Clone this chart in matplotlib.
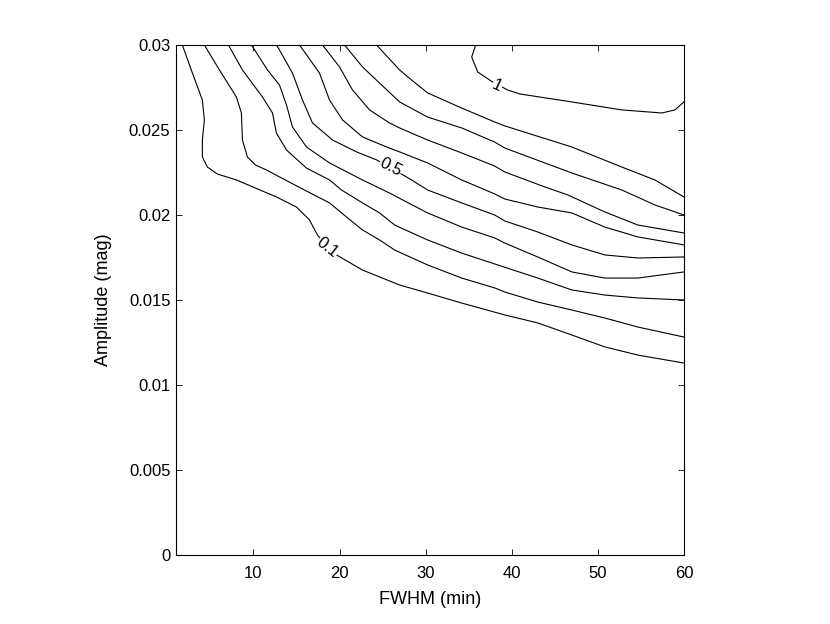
import matplotlib
matplotlib.use('Agg')
import matplotlib.pyplot as plt

# contour levels 0.1 ... 1.0, each traced as (FWHM, amplitude) points
fwhm_01 = [1.74, 2.91, 4.07, 4.30, 4.07, 4.07, 4.65, 5.81, 8.02, 12.67, 15.0, 16.51, 17.44, 18.6,
           19.65, 22.67, 26.98, 30.23, 34.19, 39.19, 43.02, 46.98, 50.81, 54.65, 60.0]
amp_01 = [0.03, 0.02835, 0.02676, 0.02559, 0.02441, 0.02341, 0.02282, 0.02241, 0.02206, 0.02106,
          0.02047, 0.01971, 0.01882, 0.01812, 0.01765, 0.01676, 0.01588, 0.01541, 0.01482,
          0.01412, 0.01365, 0.01294, 0.01224, 0.01176, 0.01129]

fwhm_02 = [4.30, 6.05, 8.02, 8.60, 8.72, 9.30, 10.23, 11.51, 13.02, 15.93, 18.84, 20.81, 22.67,
           24.65, 26.40, 30.23, 34.19, 38.02, 39.19, 43.02, 46.98, 50.81, 54.65, 60.0]
amp_02 = [0.03, 0.02853, 0.02694, 0.026, 0.02441, 0.02341, 0.02294, 0.02265, 0.02224, 0.02147,
          0.02071, 0.01988, 0.01912, 0.01853, 0.01794, 0.01706, 0.01629, 0.01571, 0.01547,
          0.01488, 0.01441, 0.01394, 0.01341, 0.01282]

fwhm_03 = [7.09, 8.72, 11.05, 12.21, 12.67, 13.84, 16.16, 18.84, 20.23, 22.67, 24.65, 26.40,
           30.23, 34.19, 38.02, 43.02, 46.98, 50.81, 54.65, 60.0]
amp_03 = [0.03, 0.02853, 0.02694, 0.026, 0.02482, 0.02382, 0.02276, 0.02206, 0.02147, 0.02071,
          0.02012, 0.01941, 0.01853, 0.01776, 0.01712, 0.01629, 0.01559, 0.01529, 0.01512, 0.015]

fwhm_04 = [9.77, 11.63, 13.02, 13.84, 14.53, 16.16, 18.84, 22.67, 25.81, 30.23, 34.19, 38.02,
           39.19, 43.02, 46.98, 50.81, 54.65, 60.0]
amp_04 = [0.03, 0.02853, 0.02765, 0.02647, 0.02518, 0.024, 0.02306, 0.02206, 0.02129, 0.02012,
          0.01929, 0.01865, 0.01835, 0.01753, 0.01665, 0.01629, 0.01629, 0.01665]

fwhm_05 = [12.67, 13.02, 14.53, 15.70, 16.86, 19.19, 21.98, 24.30, 25.81, 28.37, 30.23, 34.19,
           38.02, 39.19, 43.02, 46.98, 50.81, 54.65, 60.0]
amp_05 = [0.03, 0.02971, 0.02835, 0.02676, 0.02541, 0.02441, 0.02371, 0.02324, 0.02282, 0.02206,
          0.02147, 0.02071, 0.02, 0.01965, 0.019, 0.01824, 0.01765, 0.01747, 0.01753]

fwhm_06 = [15.35, 17.67, 18.84, 20.35, 22.67, 25.47, 26.98, 30.23, 34.19, 38.02, 39.19, 43.02,
           46.98, 50.81, 54.65, 60.0]
amp_06 = [0.03, 0.02835, 0.02676, 0.02559, 0.02459, 0.024, 0.02371, 0.02306, 0.02206, 0.02124,
          0.02094, 0.02047, 0.02012, 0.01929, 0.01871, 0.01824]

fwhm_07 = [18.02, 20.0, 21.51, 23.49, 25.81, 26.98, 30.23, 34.19, 38.02, 39.19, 43.84, 46.51,
           50.81, 54.65, 60.0]
amp_07 = [0.03, 0.02871, 0.02735, 0.02618, 0.02541, 0.02512, 0.02441, 0.02365, 0.02288, 0.02253,
          0.02165, 0.02118, 0.02018, 0.01941, 0.01894]

fwhm_08 = [20.58, 22.67, 24.65, 26.98, 30.23, 34.19, 38.02, 39.19, 46.98, 52.79, 56.63, 60.0]
amp_08 = [0.03, 0.02871, 0.02776, 0.02665, 0.02576, 0.02512, 0.02429, 0.02394, 0.02247, 0.02147,
          0.02059, 0.02]

fwhm_09 = [24.30, 26.98, 28.37, 30.23, 34.19, 38.02, 39.19, 46.98, 52.79, 56.63, 60.0]
amp_09 = [0.03, 0.02853, 0.02794, 0.02718, 0.02629, 0.02547, 0.02524, 0.024, 0.02282, 0.02206,
          0.02106]

fwhm_10 = [35.81, 35.35, 36.05, 37.79, 39.53, 40.93, 46.98, 52.79, 57.44, 58.95, 60.0]
amp_10 = [0.03, 0.02929, 0.02841, 0.02782, 0.02735, 0.02712, 0.02665, 0.02618, 0.026, 0.02618,
          0.02665]

contours = [(fwhm_01, amp_01), (fwhm_02, amp_02), (fwhm_03, amp_03), (fwhm_04, amp_04),
            (fwhm_05, amp_05), (fwhm_06, amp_06), (fwhm_07, amp_07), (fwhm_08, amp_08),
            (fwhm_09, amp_09), (fwhm_10, amp_10)]

# inline labels: text, position, rotation
label_text = ['0.1', '0.5', '1']
label_x = [18.6, 25.9, 38.3]
label_y = [0.0181, 0.0228, 0.0276]
label_rot = [-38, -27, -25]

xticks = [10, 20, 30, 40, 50, 60]
yticks = [0, 0.005, 0.01, 0.015, 0.02, 0.025, 0.03]
ytick_labels = ['0', '0.005', '0.01', '0.015', '0.02', '0.025', '0.03']

plt.rcParams['font.family'] = ['Liberation Sans', 'DejaVu Sans']

fig = plt.figure(figsize=(8.3, 6.24), dpi=100)
ax = fig.add_axes([0.212, 0.1106, 0.612, 0.8173])

for xs, ys in contours:
    ax.plot(xs, ys, color='black', lw=0.8)

for t, x, y, r in zip(label_text, label_x, label_y, label_rot):
    ax.text(x, y, t, rotation=r, ha='center', va='center', fontsize=12,
            bbox=dict(facecolor='white', edgecolor='none', pad=0.3))

ax.set_xlim(1, 60)
ax.set_ylim(0, 0.03)
ax.set_xticks(xticks)
ax.set_yticks(yticks)
ax.set_yticklabels(ytick_labels)
ax.tick_params(direction='in', top=True, right=True, labelsize=12, length=4, width=0.6)
ax.tick_params(axis='x', pad=8)
ax.tick_params(axis='y', pad=4)
for s in ax.spines.values():
    s.set_linewidth(0.8)

ax.set_xlabel('FWHM (min)', fontsize=13, labelpad=7)
ax.set_ylabel('Amplitude (mag)', fontsize=13, labelpad=12)

fig.savefig('out.png', dpi=100)
